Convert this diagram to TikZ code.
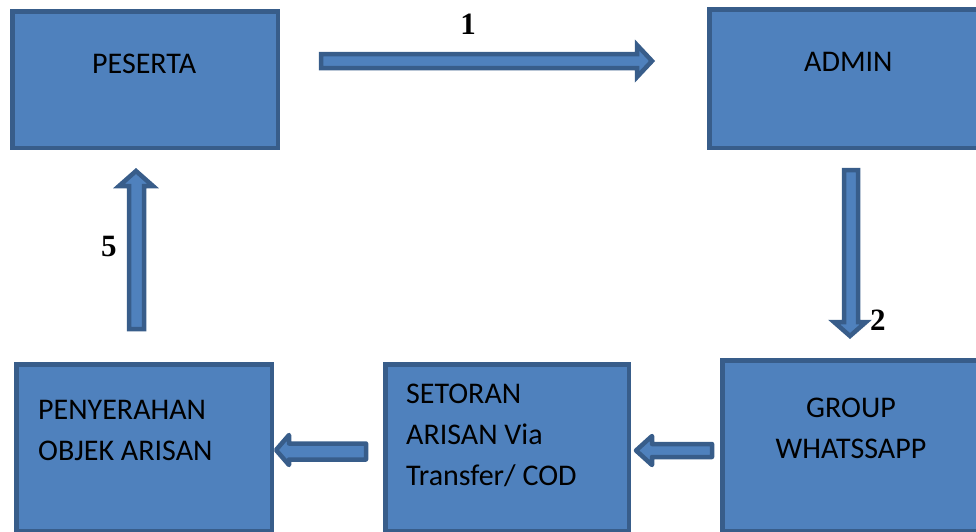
\documentclass[tikz,border=0pt]{standalone}
\usepackage{fontspec}
\setmainfont{Carlito}
\newfontfamily\numfont{Liberation Serif}
\definecolor{boxfill}{HTML}{4F81BD}
\definecolor{boxline}{HTML}{385D8A}
\begin{document}
\begin{tikzpicture}[x=1pt,y=-1pt,
  stepbox/.style={draw=boxline, fill=boxfill, line width=4.5pt, rectangle,
    inner sep=0pt, anchor=north west},
  blockarrow/.style={draw=boxline, fill=boxfill, line width=4.5pt, line join=miter},
  smallarrow/.style={blockarrow, line join=round},
  lbl/.style={font=\fontsize{30}{41}\selectfont, inner sep=0pt, text=black},
  num/.style={font=\numfont\bfseries\fontsize{31}{31}\selectfont, inner sep=0pt}]
\useasboundingbox (0,0) rectangle (976,531);
\clip (0,0) rectangle (976,531);

% process boxes
\node[stepbox, minimum width=265.5pt, minimum height=136.5pt] (pes) at (10.25,9.25) {};
\node[stepbox, minimum width=290pt, minimum height=138.5pt] (adm) at (707.25,7.25) {};
\node[stepbox, minimum width=280pt, minimum height=170.5pt] (grp) at (720.25,358.25) {};
\node[stepbox, minimum width=243.5pt, minimum height=166.5pt] (set) at (383.25,362.25) {};
\node[stepbox, minimum width=255.5pt, minimum height=166.5pt] (pen) at (14.25,362.25) {};

% box texts (multi-line nodes sit on the baseline of their last line)
\node[lbl, anchor=base west] (tpes) at (92,73) {PESERTA};
\node[lbl, anchor=base west] (tadm) at (804,71) {ADMIN};
\node[lbl, anchor=base, align=center] (tgrp) at (851,458) {GROUP\\WHATSSAPP};
\node[lbl, anchor=base west, align=left] (tset) at (406,485) {SETORAN\\ARISAN Via\\Transfer/ COD};
\node[lbl, anchor=base west, align=left] (tpen) at (38,460) {PENYERAHAN\\OBJEK ARISAN};

% block arrows between the boxes
\draw[blockarrow] (321,54) -- (637,54) -- (637,45) -- (652,61) -- (637,77) -- (637,68) -- (321,68) -- cycle;
\draw[blockarrow] (844,170) -- (858,170) -- (858,322) -- (866,322) -- (850,336) -- (834,322) -- (844,322) -- cycle;
\draw[smallarrow] (712,444) -- (652,444) -- (652,436) -- (636,450.5) -- (652,465) -- (652,457) -- (712,457) -- cycle;
\draw[smallarrow] (366,443.5) -- (289,443.5) -- (289,435) -- (276,450) -- (289,465) -- (289,459.5) -- (366,459.5) -- cycle;
\draw[blockarrow] (129,329) -- (129,186) -- (119,186) -- (136,171) -- (153,186) -- (144,186) -- (144,329) -- cycle;

% step numbers
\node[num, anchor=base] (n1) at (468,34) {1};
\node[num, anchor=base west] (n2) at (870,330) {2};
\node[num, anchor=base west] (n5) at (101,256) {5};
\end{tikzpicture}
\end{document}
